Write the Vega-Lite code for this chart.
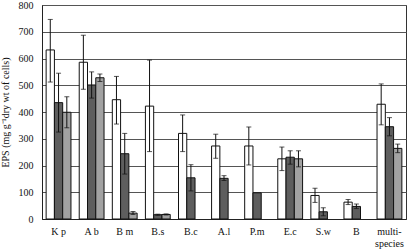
{
  "$schema": "https://vega.github.io/schema/vega-lite/v6.json",
  "width": 364,
  "height": 214,
  "autosize": {"type": "none"},
  "padding": {"left": 42, "top": 5, "right": 2, "bottom": 32},
  "background": "white",
  "config": {
    "view": {"stroke": "#333", "strokeWidth": 1},
    "font": "Liberation Serif",
    "axis": {"labelFont": "Liberation Serif", "titleFont": "Liberation Serif", "labelColor": "#111", "titleColor": "#111", "domainColor": "#222", "ticks": false}
  },
  "data": {"values": [
    {"sp": "K p", "s": "a", "v": 632, "lo": 512, "hi": 746},
    {"sp": "K p", "s": "b", "v": 435, "lo": 325, "hi": 545},
    {"sp": "K p", "s": "c", "v": 399, "lo": 341, "hi": 457},
    {"sp": "A b", "s": "a", "v": 586, "lo": 485, "hi": 687},
    {"sp": "A b", "s": "b", "v": 501, "lo": 452, "hi": 550},
    {"sp": "A b", "s": "c", "v": 528, "lo": 514, "hi": 542},
    {"sp": "B m", "s": "a", "v": 446, "lo": 355, "hi": 533},
    {"sp": "B m", "s": "b", "v": 244, "lo": 168, "hi": 320},
    {"sp": "B m", "s": "c", "v": 22, "lo": 17, "hi": 28},
    {"sp": "B.s", "s": "a", "v": 422, "lo": 252, "hi": 594},
    {"sp": "B.s", "s": "b", "v": 16, "lo": 14, "hi": 18},
    {"sp": "B.s", "s": "c", "v": 17, "lo": 15, "hi": 19},
    {"sp": "B.c", "s": "a", "v": 320, "lo": 252, "hi": 389},
    {"sp": "B.c", "s": "b", "v": 154, "lo": 105, "hi": 203},
    {"sp": "A.l", "s": "a", "v": 273, "lo": 227, "hi": 317},
    {"sp": "A.l", "s": "b", "v": 152, "lo": 144, "hi": 162},
    {"sp": "P.m", "s": "a", "v": 273, "lo": 202, "hi": 344},
    {"sp": "P.m", "s": "b", "v": 98},
    {"sp": "E.c", "s": "a", "v": 225, "lo": 181, "hi": 269},
    {"sp": "E.c", "s": "b", "v": 231, "lo": 205, "hi": 255},
    {"sp": "E.c", "s": "c", "v": 225, "lo": 195, "hi": 255},
    {"sp": "S.w", "s": "a", "v": 88, "lo": 62, "hi": 115},
    {"sp": "S.w", "s": "b", "v": 27, "lo": 12, "hi": 42},
    {"sp": "B", "s": "a", "v": 63, "lo": 54, "hi": 73},
    {"sp": "B", "s": "b", "v": 47, "lo": 39, "hi": 56},
    {"sp": "multi-species", "s": "a", "v": 429, "lo": 352, "hi": 505},
    {"sp": "multi-species", "s": "b", "v": 345, "lo": 311, "hi": 379},
    {"sp": "multi-species", "s": "c", "v": 264, "lo": 248, "hi": 280}
  ]},
  "encoding": {
    "x": {
      "field": "sp", "type": "nominal", "sort": null,
      "scale": {"paddingInner": 0.25, "paddingOuter": 0.125},
      "axis": {"title": null, "labelAngle": 0, "labelFontSize": 10, "labelPadding": 7, "domainWidth": 1,
        "labelExpr": "datum.label == 'multi-species' ? ['multi-', 'species'] : datum.label"}
    },
    "xOffset": {"field": "s", "type": "nominal", "scale": {"domain": ["a", "b", "c"], "paddingInner": 0}}
  },
  "layer": [
    {
      "mark": {"type": "bar", "stroke": "#111", "strokeWidth": 1},
      "encoding": {
        "y": {"field": "v", "type": "quantitative",
          "scale": {"domain": [0, 800], "nice": false},
          "axis": {"title": "EPS (mg g⁻¹dry wt of cells)", "titleFontSize": 10, "titleFontWeight": "normal", "titlePadding": 8,
            "values": [0, 100, 200, 300, 400, 500, 600, 700, 800], "labelFontSize": 10, "labelPadding": 9,
            "grid": true, "gridColor": "#555", "gridWidth": 1, "domainWidth": 1}},
        "fill": {"field": "s", "type": "nominal", "legend": null,
          "scale": {"domain": ["a", "b", "c"], "range": ["#ffffff", "#5e5e5e", "#a2a2a2"]}}
      }
    },
    {
      "mark": {"type": "rule", "color": "#111", "strokeWidth": 1},
      "encoding": {"y": {"field": "lo", "type": "quantitative",
          "axis": {"title": "EPS (mg g⁻¹dry wt of cells)", "titleFontSize": 10, "titleFontWeight": "normal", "titlePadding": 8,
            "values": [0, 100, 200, 300, 400, 500, 600, 700, 800], "labelFontSize": 10, "labelPadding": 9,
            "grid": true, "gridColor": "#555", "gridWidth": 1, "domainWidth": 1}},
        "y2": {"field": "hi"}}
    },
    {
      "mark": {"type": "tick", "color": "#111", "thickness": 1, "size": 5},
      "encoding": {"y": {"field": "lo", "type": "quantitative",
          "axis": {"title": "EPS (mg g⁻¹dry wt of cells)", "titleFontSize": 10, "titleFontWeight": "normal", "titlePadding": 8,
            "values": [0, 100, 200, 300, 400, 500, 600, 700, 800], "labelFontSize": 10, "labelPadding": 9,
            "grid": true, "gridColor": "#555", "gridWidth": 1, "domainWidth": 1}}}
    },
    {
      "mark": {"type": "tick", "color": "#111", "thickness": 1, "size": 5},
      "encoding": {"y": {"field": "hi", "type": "quantitative",
          "axis": {"title": "EPS (mg g⁻¹dry wt of cells)", "titleFontSize": 10, "titleFontWeight": "normal", "titlePadding": 8,
            "values": [0, 100, 200, 300, 400, 500, 600, 700, 800], "labelFontSize": 10, "labelPadding": 9,
            "grid": true, "gridColor": "#555", "gridWidth": 1, "domainWidth": 1}}}
    }
  ]
}
